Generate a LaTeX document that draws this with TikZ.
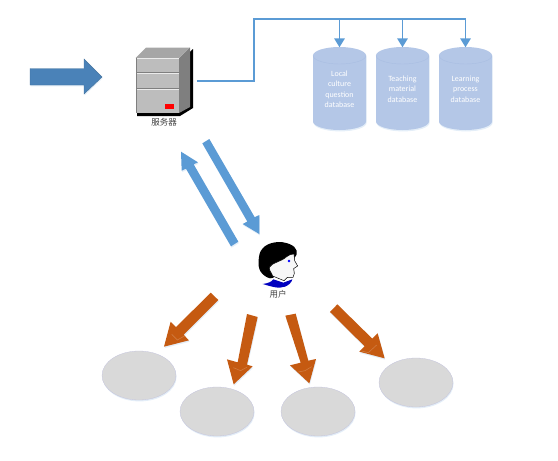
\documentclass[tikz,border=0pt]{standalone}
\usepackage{fontspec}
\setmainfont{Carlito}
\newfontfamily\cjk{Noto Sans CJK SC}
\usetikzlibrary{arrows.meta,shapes.geometric,shadows}
\definecolor{dbfill}{HTML}{B4C7E7}
\definecolor{dbend}{HTML}{A9BEE2}
\definecolor{ovalfill}{HTML}{D9D9D9}
\definecolor{softshadow}{HTML}{E4EEF8}
\definecolor{wireblue}{HTML}{5B9BD5}
\definecolor{arroworange}{HTML}{C55A11}
\definecolor{bigblue}{HTML}{4A82B8}
\definecolor{bigedge}{HTML}{41719C}
\definecolor{srvfront}{HTML}{BDBDBD}
\definecolor{srvtop}{HTML}{A6A6A6}
\definecolor{srvside}{HTML}{7F7F7F}
\tikzset{
 x=1pt,y=-1pt,
 soft/.style={drop shadow={shadow xshift=0.6pt,shadow yshift=-1.4pt,fill=softshadow,opacity=1}},
 dbbody/.style={draw=none,fill=dbfill,soft},
 dbanchor/.style={rectangle,draw=none,minimum width=53pt,minimum height=83pt,inner sep=0pt},
 dbrim/.style={draw=dbend,line width=0.4pt},
 dbtext/.style={text=white,font=\fontsize{8}{10.5}\selectfont,align=center},
 oval/.style={ellipse,fill=ovalfill,draw=ovalfill!90!blue,line width=0.3pt,minimum width=74pt,minimum height=49pt,inner sep=0pt,soft},
 wire/.style={draw=wireblue,line width=1.7pt},
 wiretip/.style={wire,-{Triangle[length=9pt,width=10.5pt]},shorten >=-0.5pt},
 bluearrow/.style={draw=none,fill=wireblue,soft},
 orangearrow/.style={draw=none,fill=arroworange,soft},
 chevron/.style={draw=white!40!arroworange,line width=0.6pt,opacity=.5},
 capt/.style={font=\cjk\fontsize{8.5}{10}\selectfont,text=black!75,inner sep=0pt},
 srvline/.style={draw=white!92!black,line width=0.9pt},
}
\newcommand{\dbshape}[1]{%
 \begin{scope}[shift={(#1,0)}]
 \path[dbbody] (0,55.5) .. controls (0,50.8) and (11.9,47) .. (26.5,47)
   .. controls (41.1,47) and (53,50.8) .. (53,55.5) -- (53,121.5)
   .. controls (53,126.2) and (41.1,130) .. (26.5,130)
   .. controls (11.9,130) and (0,126.2) .. (0,121.5) -- cycle;
 \draw[dbrim] (0,55.5) .. controls (0,60.2) and (11.9,64) .. (26.5,64)
   .. controls (41.1,64) and (53,60.2) .. (53,55.5);
 \end{scope}}
\begin{document}
\begin{tikzpicture}
\useasboundingbox (0,0) rectangle (558,461);

% input arrow
\draw[fill=bigblue,draw=bigedge,line width=0.4pt,soft]
  (30,68.5) -- (84,68.5) -- (84,59) -- (102,77) -- (84,94) -- (84,85) -- (30,85) -- cycle;

% server
\fill[black] (181,60) -- (193,49) -- (193,108) -- (180,116) -- (137,116) -- (137,112) -- cycle;
\fill[srvside] (179,58) -- (190,47.5) -- (190,107) -- (179,113) -- cycle;
\fill[srvtop] (135.5,58) -- (146,47.5) -- (190,47.5) -- (179,58) -- cycle;
\fill[srvfront] (135.5,58) rectangle (179,113);
\draw[srvline] (135.5,58.3) -- (179,58.3);
\draw[srvline] (135.5,73.5) -- (179,73.5);
\draw[srvline] (135.5,89.3) -- (179,89.3);
\fill[srvside] (135.5,58) rectangle (137,113);
\fill[srvside] (135.5,71.8) rectangle (179,72.8);
\fill[srvside] (135.5,87.6) rectangle (179,88.6);
\fill[red] (165,104) rectangle (173.5,109);
\node[minimum width=68pt,minimum height=70pt,inner sep=0pt] (server) at (163,81) {};
\node[capt] (serverlabel) at (164,122.7) {服务器};

% databases
\dbshape{313}
\dbshape{376}
\dbshape{439}
\node[dbanchor] (db1) at (339.5,88.5) {};
\node[dbanchor] (db2) at (402.5,88.5) {};
\node[dbanchor] (db3) at (465.5,88.5) {};
\node[dbtext] (t1) at (339.5,89) {Local\\culture\\question\\database};
\node[dbtext] (t2) at (402.5,89) {Teaching\\material\\database};
\node[dbtext] (t3) at (465.5,89) {Learning\\process\\database};

% wires
\coordinate (bus) at (254,19);
\draw[wire] (server.east) -| (bus) -- (db3.north |- bus);
\draw[wiretip] (db1.north |- bus) -- (db1.north);
\draw[wiretip] (db2.north |- bus) -- (db2.north);
\draw[wiretip] (db3.north |- bus) -- (db3.north);

% up / down arrows
\begin{scope}[shift={(170,130)},x=1pt/3,y=-1pt/3]
\fill[bluearrow] (205,335) -- (183,349) -- (48,116) -- (35,122) -- (33,65) -- (84,97) -- (71,103) -- cycle;
\fill[bluearrow] (97,40) -- (118,27) -- (254,261.5) -- (268,255) -- (268,312) -- (218,282) -- (232,274.5) -- cycle;

% user head
\fill[black] plot[smooth cycle,tension=.7] coordinates {(300,445) (272,425) (266,390) (278,355) (315,337) (358,342) (380,362) (372,385) (340,410) (318,435)};
\fill[blue!75!black] (278,462) .. controls (295,460) and (305,455) .. (310,448) -- (340,458) -- (367,448) .. controls (365,458) and (355,466) .. (345,470) .. controls (325,478) and (300,468) .. (278,462) -- cycle;
\draw[fill=black!3,line width=0.5pt] (298,412) .. controls (305,398) and (335,395) .. (350,380)
  .. controls (358,374) and (364,372) .. (372,372) -- (374,392) -- (383,408) -- (371,416) -- (373,430) -- (369,442) -- (352,442) -- (342,452) -- (308,438) .. controls (306,430) and (296,420) .. (298,412) -- cycle;
\fill[blue] (357,393) circle[radius=4];
\end{scope}
\node[capt] (userlabel) at (278,294.7) {用户};

% orange arrows
\begin{scope}[shift={(90,280)},x=1pt/3,y=-1pt/3]
\fill[orangearrow] (362,38) -- (385,60) -- (281,164.5) -- (297,181) -- (222,200) -- (242,125) -- (258,141.5) -- cycle;
\fill[orangearrow] (471,102) -- (503,111) -- (471,254) -- (488,259) -- (431,313) -- (411,238) -- (443,247) -- cycle;
\fill[orangearrow] (586,107) -- (617,101) -- (655,242) -- (678,237) -- (658,310) -- (600,256) -- (632,248) -- cycle;
\fill[orangearrow] (742,73) -- (720,96) -- (824,199) -- (808,215) -- (884,235) -- (863,160) -- (847,176) -- cycle;
\draw[chevron] (245,163) -- (262,180) -- (285,167);
\draw[chevron] (430,263) -- (452,272) -- (470,262);
\draw[chevron] (625,276) -- (645,272) -- (665,260);
\draw[chevron] (815,213) -- (835,218) -- (860,195);
\end{scope}

% ovals
\node[oval] (o1) at (139,375.5) {};
\node[oval] (o2) at (217,411.5) {};
\node[oval] (o3) at (318,411.5) {};
\node[oval] (o4) at (416,382.5) {};
\end{tikzpicture}
\end{document}
